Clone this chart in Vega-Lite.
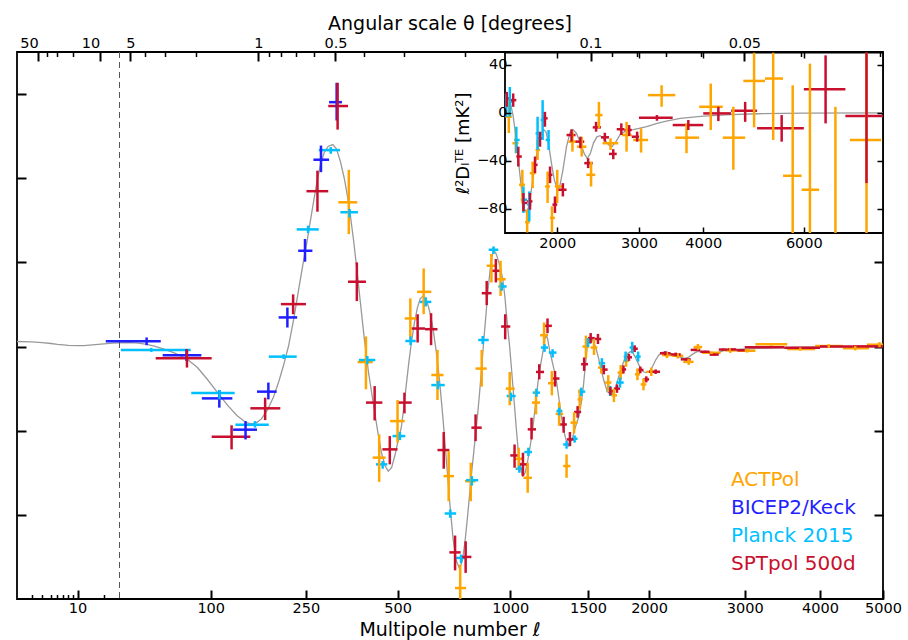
{
  "$schema": "https://vega.github.io/schema/vega-lite/v6.json",
  "width": 866,
  "height": 547,
  "autosize": {"type": "none"},
  "padding": {"left": 17, "top": 52, "right": 25, "bottom": 41},
  "background": "white",
  "config": {
    "view": {"stroke": "black", "strokeWidth": 1.8},
    "font": "DejaVu Sans",
    "axis": {"labelFont": "DejaVu Sans", "titleFont": "DejaVu Sans", "labelFontSize": 14.5, "titleFontSize": 19, "titleFontWeight": "normal", "labelColor": "black", "titleColor": "black", "tickColor": "black", "grid": false, "domain": false, "labelFlush": false, "labelOverlap": false, "labelBound": false}
  },
  "datasets": {
    "theory": [
      {"l":2,"d":3.0},{"l":3,"d":2.8},{"l":4,"d":2.3},{"l":5,"d":1.8},{"l":6,"d":1.3},{"l":7,"d":1.0},{"l":8,"d":0.7},{"l":10,"d":0.5},{"l":12,"d":0.6},{"l":15,"d":1.0},{"l":20,"d":1.6},{"l":25,"d":2.0},{"l":30,"d":2.2},{"l":35,"d":2.3},{"l":40,"d":2.0},{"l":45,"d":1.3},{"l":50,"d":0.3},{"l":57,"d":-1.5},{"l":65,"d":-3.8},{"l":76,"d":-7.4},{"l":86,"d":-12.5},{"l":96,"d":-19.3},{"l":108,"d":-27.5},{"l":120,"d":-35},{"l":132,"d":-41},{"l":144,"d":-45},{"l":152,"d":-46},{"l":160,"d":-45.3},{"l":168,"d":-43},{"l":178,"d":-37.5},{"l":188,"d":-30},{"l":198,"d":-20},{"l":206,"d":-11},{"l":215,"d":0},{"l":225,"d":16},{"l":235,"d":34},{"l":245,"d":51},{"l":252,"d":62},{"l":262,"d":79},{"l":272,"d":95},{"l":281,"d":107},{"l":290,"d":115},{"l":300,"d":119},{"l":311,"d":120},{"l":320,"d":117.5},{"l":330,"d":110},{"l":340,"d":100},{"l":348,"d":90},{"l":355,"d":80},{"l":365,"d":63},{"l":375,"d":44},{"l":383,"d":28},{"l":395,"d":5},{"l":408,"d":-16},{"l":422,"d":-34},{"l":435,"d":-50},{"l":447,"d":-63},{"l":459,"d":-71},{"l":469,"d":-74},{"l":480,"d":-72},{"l":492,"d":-64},{"l":503,"d":-55},{"l":513,"d":-48},{"l":522,"d":-36},{"l":531,"d":-22},{"l":540,"d":-9},{"l":549,"d":2.5},{"l":560,"d":14},{"l":571,"d":23},{"l":582,"d":28.5},{"l":593,"d":30},{"l":603,"d":28.5},{"l":613,"d":24},{"l":623,"d":18},{"l":632,"d":10.5},{"l":645,"d":-3},{"l":659,"d":-21},{"l":673,"d":-43},{"l":688,"d":-69},{"l":702,"d":-93},{"l":716,"d":-114},{"l":730,"d":-127},{"l":745,"d":-132},{"l":758,"d":-127},{"l":770,"d":-116},{"l":781,"d":-102},{"l":791,"d":-88.6},{"l":801,"d":-75},{"l":811,"d":-63},{"l":821,"d":-51},{"l":831,"d":-39},{"l":842,"d":-24},{"l":852,"d":-9},{"l":862,"d":6},{"l":872,"d":20},{"l":882,"d":34},{"l":892,"d":45},{"l":901,"d":53},{"l":910,"d":57},{"l":920,"d":56},{"l":930,"d":53},{"l":945,"d":47},{"l":959,"d":40},{"l":970,"d":30},{"l":978,"d":20},{"l":987,"d":10},{"l":996,"d":0.5},{"l":1005,"d":-11},{"l":1015,"d":-24},{"l":1025,"d":-37},{"l":1034,"d":-49},{"l":1043,"d":-60},{"l":1052,"d":-68},{"l":1062,"d":-74},{"l":1071,"d":-77},{"l":1085,"d":-75},{"l":1100,"d":-68},{"l":1115,"d":-59},{"l":1130,"d":-49},{"l":1145,"d":-36},{"l":1160,"d":-23},{"l":1172,"d":-14},{"l":1182,"d":-9},{"l":1195,"d":-2},{"l":1205,"d":4.5},{"l":1213,"d":6.5},{"l":1222,"d":5},{"l":1235,"d":-2},{"l":1250,"d":-8},{"l":1265,"d":-14},{"l":1278,"d":-19.3},{"l":1295,"d":-30},{"l":1310,"d":-40},{"l":1325,"d":-48},{"l":1340,"d":-54},{"l":1350,"d":-57},{"l":1361,"d":-59},{"l":1375,"d":-57},{"l":1390,"d":-54},{"l":1405,"d":-49},{"l":1420,"d":-45},{"l":1436,"d":-41},{"l":1450,"d":-34},{"l":1466,"d":-24},{"l":1480,"d":-12},{"l":1496,"d":1},{"l":1510,"d":4},{"l":1525,"d":4.5},{"l":1540,"d":3},{"l":1560,"d":-1},{"l":1580,"d":-7},{"l":1600,"d":-14},{"l":1620,"d":-20},{"l":1640,"d":-25},{"l":1660,"d":-27.5},{"l":1687,"d":-28},{"l":1710,"d":-25},{"l":1735,"d":-19},{"l":1760,"d":-13},{"l":1790,"d":-7},{"l":1815,"d":-4},{"l":1838,"d":-3},{"l":1860,"d":-4},{"l":1890,"d":-8},{"l":1920,"d":-12.5},{"l":1950,"d":-15},{"l":1975,"d":-15.5},{"l":2000,"d":-15},{"l":2030,"d":-12},{"l":2060,"d":-8},{"l":2090,"d":-5},{"l":2120,"d":-3.5},{"l":2160,"d":-3.2},{"l":2200,"d":-4},{"l":2250,"d":-5.5},{"l":2300,"d":-6.5},{"l":2340,"d":-7},{"l":2380,"d":-6.3},{"l":2420,"d":-4.5},{"l":2460,"d":-3.2},{"l":2500,"d":-2.8},{"l":2560,"d":-3.5},{"l":2620,"d":-4.2},{"l":2670,"d":-4},{"l":2720,"d":-3},{"l":2780,"d":-2.2},{"l":2850,"d":-1.8},{"l":2950,"d":-1.6},{"l":3100,"d":-1.2},{"l":3300,"d":-0.9},{"l":3600,"d":-0.5},{"l":4000,"d":-0.25},{"l":4500,"d":-0.1},{"l":5000,"d":0}
    ],
    "pts": [
      {"s":"ACTPol","l":352,"l0":325,"l1":375,"d":85.7,"d0":66.8,"d1":105},
      {"s":"ACTPol","l":400,"l0":376,"l1":420,"d":-9.2,"d0":-25.4,"d1":6},
      {"s":"ACTPol","l":440,"l0":420,"l1":460,"d":-66,"d0":-80.4,"d1":-52.2},
      {"s":"ACTPol","l":500,"l0":475,"l1":525,"d":-44.3,"d0":-57.1,"d1":-31.8},
      {"s":"ACTPol","l":545,"l0":525,"l1":570,"d":16.7,"d0":4.3,"d1":28.6},
      {"s":"ACTPol","l":595,"l0":570,"l1":625,"d":32.5,"d0":19.2,"d1":46.4},
      {"s":"ACTPol","l":650,"l0":625,"l1":675,"d":-16.9,"d0":-31.8,"d1":-2},
      {"s":"ACTPol","l":697,"l0":675,"l1":720,"d":-77,"d0":-91.9,"d1":-62.1},
      {"s":"ACTPol","l":748,"l0":725,"l1":775,"d":-143.5,"d0":-150,"d1":-129.6},
      {"s":"ACTPol","l":797,"l0":770,"l1":820,"d":-80,"d0":-91.9,"d1":-69},
      {"s":"ACTPol","l":850,"l0":820,"l1":875,"d":-13.1,"d0":-23.8,"d1":-2},
      {"s":"ACTPol","l":899,"l0":875,"l1":925,"d":48,"d0":38.1,"d1":55},
      {"s":"ACTPol","l":947,"l0":925,"l1":975,"d":40,"d0":30.1,"d1":51},
      {"s":"ACTPol","l":997,"l0":975,"l1":1025,"d":-25,"d0":-34.9,"d1":-15.1},
      {"s":"ACTPol","l":1047,"l0":1025,"l1":1075,"d":-66.7,"d0":-73.4,"d1":-60.1},
      {"s":"ACTPol","l":1100,"l0":1075,"l1":1125,"d":-78,"d0":-86.9,"d1":-69},
      {"s":"ACTPol","l":1150,"l0":1125,"l1":1175,"d":-33.3,"d0":-40.3,"d1":-25.4},
      {"s":"ACTPol","l":1200,"l0":1175,"l1":1225,"d":6.7,"d0":0.4,"d1":14.3},
      {"s":"ACTPol","l":1250,"l0":1225,"l1":1275,"d":-21.8,"d0":-29,"d1":-14.5},
      {"s":"ACTPol","l":1298,"l0":1275,"l1":1325,"d":-40,"d0":-47,"d1":-33},
      {"s":"ACTPol","l":1348,"l0":1325,"l1":1375,"d":-71,"d0":-78,"d1":-64.1},
      {"s":"ACTPol","l":1400,"l0":1375,"l1":1425,"d":-45.2,"d0":-51.6,"d1":-39},
      {"s":"ACTPol","l":1440,"l0":1425,"l1":1460,"d":-31.4,"d0":-37.3,"d1":-25.4},
      {"s":"ACTPol","l":1485,"l0":1460,"l1":1510,"d":0,"d0":-7,"d1":6.5},
      {"s":"ACTPol","l":1545,"l0":1520,"l1":1570,"d":-0.6,"d0":-5,"d1":4.3},
      {"s":"ACTPol","l":1600,"l0":1575,"l1":1625,"d":-12.5,"d0":-16,"d1":-9},
      {"s":"ACTPol","l":1655,"l0":1630,"l1":1680,"d":-21.4,"d0":-27,"d1":-17},
      {"s":"ACTPol","l":1700,"l0":1680,"l1":1725,"d":-29,"d0":-33,"d1":-25},
      {"s":"ACTPol","l":1755,"l0":1730,"l1":1780,"d":-15.5,"d0":-20,"d1":-11},
      {"s":"ACTPol","l":1800,"l0":1780,"l1":1825,"d":-8.5,"d0":-12,"d1":-5},
      {"s":"ACTPol","l":1897,"l0":1875,"l1":1920,"d":-16.5,"d0":-20,"d1":-13},
      {"s":"ACTPol","l":1950,"l0":1925,"l1":1975,"d":-22.5,"d0":-26,"d1":-19},
      {"s":"ACTPol","l":2020,"l0":1975,"l1":2060,"d":-15,"d0":-17.5,"d1":-12.5},
      {"s":"ACTPol","l":2165,"l0":2120,"l1":2210,"d":-5.1,"d0":-6.9,"d1":-3.3},
      {"s":"ACTPol","l":2270,"l0":2215,"l1":2325,"d":-5.5,"d0":-7.1,"d1":-3.9},
      {"s":"ACTPol","l":2380,"l0":2325,"l1":2430,"d":-9.1,"d0":-10.9,"d1":-7.3},
      {"s":"ACTPol","l":2475,"l0":2430,"l1":2520,"d":-0.3,"d0":-2.1,"d1":1.5},
      {"s":"ACTPol","l":2620,"l0":2520,"l1":2720,"d":-3.7,"d0":-4.5,"d1":-2.9},
      {"s":"ACTPol","l":2830,"l0":2770,"l1":2900,"d":-2.3,"d0":-3.8,"d1":-0.8},
      {"s":"ACTPol","l":3030,"l0":2920,"l1":3130,"d":-2.5,"d0":-3.6,"d1":-1.4},
      {"s":"ACTPol","l":3330,"l0":3130,"l1":3540,"d":1.3,"d0":0.5,"d1":2.1},
      {"s":"ACTPol","l":3720,"l0":3540,"l1":3930,"d":-1.5,"d0":-2.4,"d1":-0.6},
      {"s":"ACTPol","l":4130,"l0":3930,"l1":4345,"d":0.3,"d0":-0.8,"d1":1.4},
      {"s":"ACTPol","l":4540,"l0":4345,"l1":4765,"d":-1.0,"d0":-2.3,"d1":0.3},
      {"s":"ACTPol","l":4940,"l0":4730,"l1":5000,"d":1.1,"d0":-0.4,"d1":2.6},
      {"s":"BICEP2/Keck","l":45,"l0":21,"l1":54.6,"d":3.2,"d0":0.8,"d1":5.4},
      {"s":"BICEP2/Keck","l":75.6,"l0":56,"l1":90,"d":-5.2,"d0":-8.6,"d1":-1.6},
      {"s":"BICEP2/Keck","l":109.8,"l0":90.5,"l1":126,"d":-30.8,"d0":-36.3,"d1":-25.8},
      {"s":"BICEP2/Keck","l":144,"l0":127,"l1":161,"d":-49.4,"d0":-55.2,"d1":-44.3},
      {"s":"BICEP2/Keck","l":179.3,"l0":161,"l1":193.5,"d":-26.8,"d0":-31.4,"d1":-21.4},
      {"s":"BICEP2/Keck","l":213,"l0":197,"l1":232,"d":17.3,"d0":11.3,"d1":23.2},
      {"s":"BICEP2/Keck","l":248,"l0":234,"l1":263.8,"d":56.9,"d0":50.4,"d1":63.9},
      {"s":"BICEP2/Keck","l":283,"l0":266,"l1":302,"d":111,"d0":103.6,"d1":119.4},
      {"s":"BICEP2/Keck","l":320.6,"l0":302,"l1":334,"d":145.2,"d0":134.3,"d1":156.7},
      {"s":"Planck 2015","l":48,"l0":30.7,"l1":79.5,"d":-2,"d0":-3.2,"d1":-0.8},
      {"s":"Planck 2015","l":110,"l0":80,"l1":129,"d":-27.6,"d0":-31.4,"d1":-25.8},
      {"s":"Planck 2015","l":158,"l0":130,"l1":180,"d":-46.4,"d0":-48.2,"d1":-44.3},
      {"s":"Planck 2015","l":206,"l0":180,"l1":231,"d":-6,"d0":-7.4,"d1":-4.6},
      {"s":"Planck 2015","l":254.5,"l0":231,"l1":278,"d":69.6,"d0":67.4,"d1":71.8},
      {"s":"Planck 2015","l":306,"l0":278,"l1":329,"d":116.7,"d0":114.5,"d1":118.5},
      {"s":"Planck 2015","l":354,"l0":330,"l1":377,"d":79.8,"d0":76.8,"d1":81.7},
      {"s":"Planck 2015","l":404,"l0":380,"l1":428,"d":-8,"d0":-10.5,"d1":-5.6},
      {"s":"Planck 2015","l":451,"l0":430,"l1":466,"d":-70,"d0":-72.6,"d1":-68},
      {"s":"Planck 2015","l":508,"l0":483,"l1":527,"d":-53.2,"d0":-55.6,"d1":-50.8},
      {"s":"Planck 2015","l":546,"l0":527,"l1":565,"d":3.3,"d0":0.8,"d1":6},
      {"s":"Planck 2015","l":603,"l0":580,"l1":625,"d":26.5,"d0":23.8,"d1":29.2},
      {"s":"Planck 2015","l":652,"l0":625,"l1":680,"d":-22.9,"d0":-25.4,"d1":-20.5},
      {"s":"Planck 2015","l":704,"l0":680,"l1":730,"d":-99.2,"d0":-101.8,"d1":-96.8},
      {"s":"Planck 2015","l":752,"l0":730,"l1":775,"d":-125.6,"d0":-128.6,"d1":-123.6},
      {"s":"Planck 2015","l":802,"l0":775,"l1":833,"d":-79.4,"d0":-82.6,"d1":-77},
      {"s":"Planck 2015","l":855,"l0":833,"l1":885,"d":3.9,"d0":1.4,"d1":6.3},
      {"s":"Planck 2015","l":910,"l0":885,"l1":935,"d":57.5,"d0":55,"d1":59.5},
      {"s":"Planck 2015","l":953,"l0":935,"l1":980,"d":35.7,"d0":33.1,"d1":38.1},
      {"s":"Planck 2015","l":1004,"l0":980,"l1":1030,"d":-29.4,"d0":-32.4,"d1":-27.4},
      {"s":"Planck 2015","l":1051,"l0":1030,"l1":1075,"d":-72.6,"d0":-75,"d1":-70.7},
      {"s":"Planck 2015","l":1104,"l0":1080,"l1":1125,"d":-62.7,"d0":-65.1,"d1":-60.1},
      {"s":"Planck 2015","l":1153,"l0":1130,"l1":1175,"d":-27.4,"d0":-29.8,"d1":-25},
      {"s":"Planck 2015","l":1203,"l0":1180,"l1":1225,"d":-0.6,"d0":-3.2,"d1":1.4},
      {"s":"Planck 2015","l":1255,"l0":1230,"l1":1280,"d":-3.6,"d0":-6.5,"d1":-1.6},
      {"s":"Planck 2015","l":1298,"l0":1280,"l1":1320,"d":-38.3,"d0":-40.9,"d1":-36.3},
      {"s":"Planck 2015","l":1348,"l0":1325,"l1":1380,"d":-58.2,"d0":-60.7,"d1":-56.2},
      {"s":"Planck 2015","l":1404,"l0":1385,"l1":1425,"d":-54.8,"d0":-57.1,"d1":-52.8},
      {"s":"Planck 2015","l":1451,"l0":1430,"l1":1480,"d":-26.8,"d0":-29.4,"d1":-24.4},
      {"s":"Planck 2015","l":1500,"l0":1480,"l1":1525,"d":2.4,"d0":-0.3,"d1":5},
      {"s":"Planck 2015","l":1605,"l0":1580,"l1":1630,"d":-9.9,"d0":-12.9,"d1":-6.9},
      {"s":"Planck 2015","l":1670,"l0":1640,"l1":1700,"d":-26.4,"d0":-29.4,"d1":-23.4},
      {"s":"Planck 2015","l":1750,"l0":1720,"l1":1780,"d":-21.4,"d0":-24.4,"d1":-18.4},
      {"s":"Planck 2015","l":1796,"l0":1780,"l1":1815,"d":-6,"d0":-9,"d1":-3},
      {"s":"Planck 2015","l":1852,"l0":1830,"l1":1875,"d":-0.6,"d0":-4,"d1":2.8},
      {"s":"Planck 2015","l":1903,"l0":1880,"l1":1925,"d":-6,"d0":-9,"d1":-3},
      {"s":"SPTpol 500d","l":76,"l0":51,"l1":101,"d":-7,"d0":-12.5,"d1":-1.6},
      {"s":"SPTpol 500d","l":125,"l0":101,"l1":151,"d":-53.6,"d0":-61.1,"d1":-46.8},
      {"s":"SPTpol 500d","l":174,"l0":151,"l1":200,"d":-36.7,"d0":-43.7,"d1":-30.4},
      {"s":"SPTpol 500d","l":224,"l0":201,"l1":250,"d":25.2,"d0":19.2,"d1":31},
      {"s":"SPTpol 500d","l":275,"l0":251,"l1":300,"d":92.3,"d0":80.1,"d1":104.5},
      {"s":"SPTpol 500d","l":323,"l0":300,"l1":350,"d":142.9,"d0":128.9,"d1":156.7},
      {"s":"SPTpol 500d","l":374,"l0":350,"l1":400,"d":38.5,"d0":27,"d1":50},
      {"s":"SPTpol 500d","l":426,"l0":400,"l1":450,"d":-33.3,"d0":-43.9,"d1":-23.5},
      {"s":"SPTpol 500d","l":474,"l0":450,"l1":500,"d":-61.1,"d0":-70,"d1":-53.2},
      {"s":"SPTpol 500d","l":524,"l0":500,"l1":550,"d":-33.3,"d0":-39.7,"d1":-27.4},
      {"s":"SPTpol 500d","l":572,"l0":550,"l1":600,"d":10.7,"d0":2.4,"d1":19.2},
      {"s":"SPTpol 500d","l":624,"l0":600,"l1":650,"d":10.3,"d0":0.8,"d1":19.8},
      {"s":"SPTpol 500d","l":676,"l0":650,"l1":700,"d":-61.5,"d0":-72.6,"d1":-50.8},
      {"s":"SPTpol 500d","l":725,"l0":700,"l1":750,"d":-122.3,"d0":-133,"d1":-112.3},
      {"s":"SPTpol 500d","l":773,"l0":750,"l1":800,"d":-125,"d0":-134.5,"d1":-115.7},
      {"s":"SPTpol 500d","l":820,"l0":800,"l1":850,"d":-48.2,"d0":-56.2,"d1":-40.3},
      {"s":"SPTpol 500d","l":875,"l0":850,"l1":900,"d":31.7,"d0":24.6,"d1":39},
      {"s":"SPTpol 500d","l":922,"l0":900,"l1":950,"d":45,"d0":38.1,"d1":52},
      {"s":"SPTpol 500d","l":972,"l0":950,"l1":1000,"d":11.9,"d0":4.3,"d1":19.2},
      {"s":"SPTpol 500d","l":1024,"l0":1000,"l1":1050,"d":-64.7,"d0":-72,"d1":-58.2},
      {"s":"SPTpol 500d","l":1072,"l0":1050,"l1":1100,"d":-70,"d0":-77,"d1":-63.1},
      {"s":"SPTpol 500d","l":1123,"l0":1100,"l1":1150,"d":-49.2,"d0":-55.2,"d1":-42.3},
      {"s":"SPTpol 500d","l":1170,"l0":1150,"l1":1200,"d":-15.1,"d0":-19.5,"d1":-10.5},
      {"s":"SPTpol 500d","l":1222,"l0":1200,"l1":1250,"d":12.3,"d0":7.9,"d1":16.7},
      {"s":"SPTpol 500d","l":1271,"l0":1250,"l1":1300,"d":-19,"d0":-23.8,"d1":-14.5},
      {"s":"SPTpol 500d","l":1328,"l0":1300,"l1":1350,"d":-46.3,"d0":-51.2,"d1":-41.7},
      {"s":"SPTpol 500d","l":1371,"l0":1350,"l1":1400,"d":-55.2,"d0":-59.2,"d1":-50.8},
      {"s":"SPTpol 500d","l":1425,"l0":1400,"l1":1450,"d":-38.9,"d0":-42.3,"d1":-35.4},
      {"s":"SPTpol 500d","l":1472,"l0":1450,"l1":1500,"d":-10.5,"d0":-14.5,"d1":-6.5},
      {"s":"SPTpol 500d","l":1520,"l0":1500,"l1":1550,"d":5,"d0":2,"d1":8},
      {"s":"SPTpol 500d","l":1575,"l0":1550,"l1":1600,"d":4.5,"d0":1.5,"d1":7.5},
      {"s":"SPTpol 500d","l":1620,"l0":1600,"l1":1650,"d":-13.7,"d0":-16.5,"d1":-11},
      {"s":"SPTpol 500d","l":1672,"l0":1650,"l1":1700,"d":-26.5,"d0":-29,"d1":-24},
      {"s":"SPTpol 500d","l":1725,"l0":1700,"l1":1750,"d":-25,"d0":-27.5,"d1":-22.5},
      {"s":"SPTpol 500d","l":1778,"l0":1750,"l1":1800,"d":-13.6,"d0":-16,"d1":-11.2},
      {"s":"SPTpol 500d","l":1824,"l0":1800,"l1":1850,"d":-6.4,"d0":-8.5,"d1":-4.3},
      {"s":"SPTpol 500d","l":1873,"l0":1850,"l1":1900,"d":-1.3,"d0":-3.3,"d1":0.7},
      {"s":"SPTpol 500d","l":1922,"l0":1900,"l1":1950,"d":-13.9,"d0":-15.9,"d1":-11.9},
      {"s":"SPTpol 500d","l":1975,"l0":1950,"l1":2000,"d":-19.5,"d0":-21.3,"d1":-17.7},
      {"s":"SPTpol 500d","l":2060,"l0":2000,"l1":2100,"d":-15,"d0":-16.3,"d1":-13.6},
      {"s":"SPTpol 500d","l":2150,"l0":2100,"l1":2200,"d":-4,"d0":-5.2,"d1":-2.8},
      {"s":"SPTpol 500d","l":2250,"l0":2200,"l1":2300,"d":-4.7,"d0":-5.8,"d1":-3.6},
      {"s":"SPTpol 500d","l":2350,"l0":2300,"l1":2400,"d":-7.6,"d0":-8.4,"d1":-6.8},
      {"s":"SPTpol 500d","l":2450,"l0":2400,"l1":2500,"d":-2,"d0":-2.7,"d1":-1.3},
      {"s":"SPTpol 500d","l":2550,"l0":2500,"l1":2600,"d":-3.1,"d0":-3.7,"d1":-2.5},
      {"s":"SPTpol 500d","l":2650,"l0":2600,"l1":2700,"d":-4.8,"d0":-5.4,"d1":-4.2},
      {"s":"SPTpol 500d","l":2750,"l0":2700,"l1":2800,"d":-1.8,"d0":-2.4,"d1":-1.2},
      {"s":"SPTpol 500d","l":2850,"l0":2800,"l1":2900,"d":-1.7,"d0":-2.3,"d1":-1.1},
      {"s":"SPTpol 500d","l":2950,"l0":2900,"l1":3000,"d":-2.2,"d0":-2.7,"d1":-1.7},
      {"s":"SPTpol 500d","l":3250,"l0":3000,"l1":3500,"d":-0.4,"d0":-0.65,"d1":-0.15},
      {"s":"SPTpol 500d","l":3750,"l0":3500,"l1":4000,"d":-0.7,"d0":-1.0,"d1":-0.4},
      {"s":"SPTpol 500d","l":4250,"l0":4000,"l1":4500,"d":0,"d0":-0.3,"d1":0.3},
      {"s":"SPTpol 500d","l":4750,"l0":4500,"l1":5000,"d":0.1,"d0":-0.3,"d1":0.5}
    ],
    "itheory": [
      {"l":1500,"d":11},{"l":1520,"d":13},{"l":1545,"d":9},{"l":1570,"d":-2},{"l":1600,"d":-22},{"l":1625,"d":-45},{"l":1650,"d":-66},{"l":1675,"d":-80},{"l":1694,"d":-83},{"l":1715,"d":-78},{"l":1740,"d":-64},{"l":1770,"d":-46},{"l":1800,"d":-30},{"l":1830,"d":-19},{"l":1860,"d":-14},{"l":1885,"d":-16},{"l":1910,"d":-26},{"l":1940,"d":-42},{"l":1970,"d":-56},{"l":2000,"d":-63},{"l":2025,"d":-62},{"l":2060,"d":-48},{"l":2100,"d":-28},{"l":2140,"d":-16},{"l":2170,"d":-14},{"l":2210,"d":-17},{"l":2260,"d":-26},{"l":2300,"d":-34},{"l":2335,"d":-38},{"l":2370,"d":-34},{"l":2410,"d":-25},{"l":2450,"d":-20},{"l":2490,"d":-19},{"l":2540,"d":-22},{"l":2600,"d":-27},{"l":2640,"d":-28},{"l":2690,"d":-24},{"l":2745,"d":-18},{"l":2820,"d":-15},{"l":2920,"d":-14},{"l":3000,"d":-13},{"l":3110,"d":-11.5},{"l":3250,"d":-9},{"l":3400,"d":-7},{"l":3620,"d":-4.6},{"l":4000,"d":-2.7},{"l":4500,"d":-1.5},{"l":5000,"d":-0.8},{"l":6000,"d":-0.3},{"l":8000,"d":0}
    ],
    "ipts": [
      {"s":"ACTPol","l":1533,"l0":1505,"l1":1560,"d":-3.3,"d0":-16.8,"d1":10.5},
      {"s":"ACTPol","l":1595,"l0":1565,"l1":1620,"d":-25.3,"d0":-33.6,"d1":-12.9},
      {"s":"ACTPol","l":1655,"l0":1625,"l1":1680,"d":-59.9,"d0":-75,"d1":-47.4},
      {"s":"ACTPol","l":1700,"l0":1680,"l1":1725,"d":-91,"d0":-99.6,"d1":-80.6},
      {"s":"ACTPol","l":1752,"l0":1725,"l1":1780,"d":-50.2,"d0":-62.6,"d1":-40.6},
      {"s":"ACTPol","l":1800,"l0":1780,"l1":1825,"d":-30.9,"d0":-39.2,"d1":-22.6},
      {"s":"ACTPol","l":1900,"l0":1875,"l1":1925,"d":-61.3,"d0":-75,"d1":-48.9},
      {"s":"ACTPol","l":1945,"l0":1925,"l1":1975,"d":-87.4,"d0":-99.6,"d1":-77.8},
      {"s":"ACTPol","l":2000,"l0":1975,"l1":2060,"d":-61.3,"d0":-75,"d1":-47.4},
      {"s":"ACTPol","l":2165,"l0":2120,"l1":2210,"d":-24,"d0":-32.3,"d1":-15.7},
      {"s":"ACTPol","l":2270,"l0":2215,"l1":2325,"d":-28.2,"d0":-36.4,"d1":-19.9},
      {"s":"ACTPol","l":2380,"l0":2325,"l1":2430,"d":-51.6,"d0":-61.3,"d1":-40.6},
      {"s":"ACTPol","l":2475,"l0":2430,"l1":2520,"d":-1.9,"d0":-12.9,"d1":9.1},
      {"s":"ACTPol","l":2620,"l0":2520,"l1":2720,"d":-25.3,"d0":-30.9,"d1":-21.2},
      {"s":"ACTPol","l":2830,"l0":2770,"l1":2900,"d":-18.5,"d0":-32.3,"d1":-7.5},
      {"s":"ACTPol","l":3030,"l0":2920,"l1":3130,"d":-22.6,"d0":-33.1,"d1":-12.9},
      {"s":"ACTPol","l":3330,"l0":3130,"l1":3540,"d":14.7,"d0":5,"d1":22.9},
      {"s":"ACTPol","l":3720,"l0":3540,"l1":3930,"d":-20.7,"d0":-33.6,"d1":-8.8},
      {"s":"ACTPol","l":4130,"l0":3930,"l1":4345,"d":5,"d0":-14.3,"d1":24.3},
      {"s":"ACTPol","l":4540,"l0":4345,"l1":4765,"d":-20.7,"d0":-47.4,"d1":5},
      {"s":"ACTPol","l":4940,"l0":4730,"l1":5160,"d":26.5,"d0":-12.1,"d1":60},
      {"s":"ACTPol","l":5330,"l0":5160,"l1":5540,"d":28.5,"d0":-22.6,"d1":60},
      {"s":"ACTPol","l":5750,"l0":5540,"l1":5950,"d":-52.4,"d0":-130,"d1":22.9},
      {"s":"ACTPol","l":6140,"l0":5950,"l1":6355,"d":-64,"d0":-130,"d1":40.9},
      {"s":"ACTPol","l":6750,"l0":6600,"l1":6900,"d":-130,"d0":-250,"d1":5},
      {"s":"ACTPol","l":7550,"l0":7114,"l1":7950,"d":-22.6,"d0":-130,"d1":60},
      {"s":"Planck 2015","l":1510,"l0":1490,"l1":1525,"d":6,"d0":-3.6,"d1":16},
      {"s":"Planck 2015","l":1542,"l0":1525,"l1":1560,"d":9.1,"d0":-3.3,"d1":21.5},
      {"s":"Planck 2015","l":1600,"l0":1580,"l1":1630,"d":-22.6,"d0":-33.6,"d1":-11.6},
      {"s":"Planck 2015","l":1665,"l0":1640,"l1":1700,"d":-72.3,"d0":-83.3,"d1":-61.3},
      {"s":"Planck 2015","l":1720,"l0":1700,"l1":1740,"d":-76.4,"d0":-90.3,"d1":-65.4},
      {"s":"Planck 2015","l":1800,"l0":1780,"l1":1815,"d":-17.1,"d0":-30.9,"d1":-3.3},
      {"s":"Planck 2015","l":1850,"l0":1830,"l1":1875,"d":-6,"d0":-22.6,"d1":10.5},
      {"s":"Planck 2015","l":1910,"l0":1880,"l1":1925,"d":-22.6,"d0":-30.9,"d1":-14.3},
      {"s":"SPTpol 500d","l":1515,"l0":1500,"l1":1545,"d":11.9,"d0":5,"d1":17.4},
      {"s":"SPTpol 500d","l":1572,"l0":1550,"l1":1600,"d":10.5,"d0":5,"d1":16.1},
      {"s":"SPTpol 500d","l":1618,"l0":1600,"l1":1650,"d":-36.4,"d0":-44.7,"d1":-28.2},
      {"s":"SPTpol 500d","l":1665,"l0":1650,"l1":1700,"d":-75,"d0":-82,"d1":-66.7},
      {"s":"SPTpol 500d","l":1727,"l0":1700,"l1":1750,"d":-73.7,"d0":-80.6,"d1":-66.7},
      {"s":"SPTpol 500d","l":1775,"l0":1750,"l1":1800,"d":-43.3,"d0":-50.2,"d1":-36.4},
      {"s":"SPTpol 500d","l":1824,"l0":1800,"l1":1850,"d":-21.2,"d0":-28.2,"d1":-15.7},
      {"s":"SPTpol 500d","l":1873,"l0":1850,"l1":1900,"d":-4.6,"d0":-11.6,"d1":0.8},
      {"s":"SPTpol 500d","l":1925,"l0":1900,"l1":1950,"d":-51.6,"d0":-58.5,"d1":-44.7},
      {"s":"SPTpol 500d","l":1976,"l0":1950,"l1":2000,"d":-76.4,"d0":-83.3,"d1":-69.6},
      {"s":"SPTpol 500d","l":2060,"l0":2000,"l1":2100,"d":-64,"d0":-69.6,"d1":-58.5},
      {"s":"SPTpol 500d","l":2155,"l0":2100,"l1":2200,"d":-18.5,"d0":-24,"d1":-13.7},
      {"s":"SPTpol 500d","l":2255,"l0":2200,"l1":2300,"d":-24,"d0":-29.5,"d1":-19.9},
      {"s":"SPTpol 500d","l":2345,"l0":2300,"l1":2400,"d":-41.9,"d0":-46,"d1":-37.8},
      {"s":"SPTpol 500d","l":2440,"l0":2400,"l1":2500,"d":-12.1,"d0":-15.7,"d1":-7.5},
      {"s":"SPTpol 500d","l":2548,"l0":2500,"l1":2600,"d":-20.4,"d0":-24,"d1":-16.6},
      {"s":"SPTpol 500d","l":2655,"l0":2600,"l1":2700,"d":-34.2,"d0":-38.6,"d1":-30.3},
      {"s":"SPTpol 500d","l":2760,"l0":2700,"l1":2800,"d":-13.7,"d0":-18.5,"d1":-8.8},
      {"s":"SPTpol 500d","l":2865,"l0":2800,"l1":2900,"d":-14.3,"d0":-19.3,"d1":-10.2},
      {"s":"SPTpol 500d","l":2975,"l0":2900,"l1":3000,"d":-19.9,"d0":-24,"d1":-15.7},
      {"s":"SPTpol 500d","l":3260,"l0":3000,"l1":3500,"d":-4.1,"d0":-6.6,"d1":-1.9},
      {"s":"SPTpol 500d","l":3750,"l0":3500,"l1":4000,"d":-10.2,"d0":-14.3,"d1":-6},
      {"s":"SPTpol 500d","l":4265,"l0":4000,"l1":4500,"d":-0.5,"d0":-6.9,"d1":5},
      {"s":"SPTpol 500d","l":4765,"l0":4500,"l1":5000,"d":1.7,"d0":-7.5,"d1":9.1},
      {"s":"SPTpol 500d","l":5510,"l0":5000,"l1":6000,"d":-12.9,"d0":-24,"d1":-1.9},
      {"s":"SPTpol 500d","l":6510,"l0":6000,"l1":7000,"d":19.6,"d0":-8.8,"d1":47.8},
      {"s":"SPTpol 500d","l":7550,"l0":7000,"l1":8000,"d":-2.7,"d0":-58.5,"d1":60}
    ]
  },
  "layer": [
    {
      "layer": [
        {
          "data": {"name": "theory"},
          "mark": {"type": "line", "color": "#999999", "strokeWidth": 1.3, "clip": true},
          "encoding": {
            "x": {"field": "l", "type": "quantitative", "scale": {"type": "pow", "exponent": 0.3, "domain": [2,3,5,10,20,30,5000], "range": [-1,14.5,34,60.5,87,102.5,866], "nice": false, "zero": false}, "axis": {"orient": "bottom", "values": [10,100,250,500,1000,1500,2000,3000,4000,5000], "format": "d", "title": "Multipole number ℓ", "tickSize": -9, "tickWidth": 2, "labelPadding": 11, "titlePadding": 6}},
            "y": {"field": "d", "type": "quantitative", "scale": {"domain": [-150, 175], "nice": false, "zero": false}, "axis": {"orient": "left", "values": [-100,-50,0,50,100,150], "labels": false, "title": null, "tickSize": -9, "tickWidth": 2}}
          }
        },
        {
          "data": {"values": [{"l": 30}]},
          "mark": {"type": "rule", "color": "#555555", "strokeWidth": 1, "strokeDash": [6, 4]},
          "encoding": {
            "x": {"field": "l", "type": "quantitative"}
          }
        },
        {
          "data": {"name": "pts"},
          "mark": {"type": "rule", "strokeWidth": 2.5, "clip": true},
          "encoding": {
            "x": {"field": "l0", "type": "quantitative"},
            "x2": {"field": "l1"},
            "y": {"field": "d", "type": "quantitative"},
            "color": {"field": "s", "type": "nominal", "scale": {"domain": ["ACTPol","BICEP2/Keck","Planck 2015","SPTpol 500d"], "range": ["#FFA500","#1F1FFF","#00BFFF","#C8102E"]}, "legend": {"orient": "none", "legendX": 694, "legendY": 418, "title": null, "symbolSize": 0, "symbolStrokeWidth": 0, "symbolOpacity": 0, "labelFont": "DejaVu Sans", "labelFontSize": 20, "labelOffset": 0, "rowPadding": 8, "labelLimit": 300, "encode": {"labels": {"update": {"fill": {"scale": "color", "field": "value"}}}}}}
          }
        },
        {
          "data": {"name": "pts"},
          "mark": {"type": "rule", "strokeWidth": 2.5, "clip": true},
          "encoding": {
            "x": {"field": "l", "type": "quantitative"},
            "y": {"field": "d0", "type": "quantitative"},
            "y2": {"field": "d1"},
            "color": {"field": "s", "type": "nominal", "scale": {"domain": ["ACTPol","BICEP2/Keck","Planck 2015","SPTpol 500d"], "range": ["#FFA500","#1F1FFF","#00BFFF","#C8102E"]}, "legend": {"orient": "none", "legendX": 694, "legendY": 418, "title": null, "symbolSize": 0, "symbolStrokeWidth": 0, "symbolOpacity": 0, "labelFont": "DejaVu Sans", "labelFontSize": 20, "labelOffset": 0, "rowPadding": 8, "labelLimit": 300, "encode": {"labels": {"update": {"fill": {"scale": "color", "field": "value"}}}}}}
          }
        }
      ]
    },
    {
      "data": {"values": [{"l": 30}]},
      "mark": {"type": "rule", "opacity": 0},
      "encoding": {
        "x": {"field": "l", "type": "quantitative", "scale": {"type": "pow", "exponent": 0.3, "domain": [2,3,5,10,20,30,5000], "range": [-1,14.5,34,60.5,87,102.5,866], "nice": false, "zero": false}, "axis": {"orient": "bottom", "values": [3,4,5,6,7,8,9,20], "labels": false, "title": null, "tickSize": -4.5, "tickWidth": 1.5}}
      }
    },
    {
      "data": {"values": [{"l": 30}]},
      "mark": {"type": "rule", "opacity": 0},
      "encoding": {
        "x": {"field": "l", "type": "quantitative", "scale": {"type": "pow", "exponent": 0.3, "domain": [2,3,5,10,20,30,6058], "range": [-1,14.5,34,60.5,87,102.5,866], "nice": false, "zero": false}, "axis": {"orient": "top", "values": [3.6,18,36,180,360,1800,3600], "labelExpr": "format(180/datum.value, '.2~g')", "labelAlign": {"condition": {"test": "datum.value < 30", "value": "right"}, "value": "center"}, "title": "Angular scale θ [degrees]", "tickSize": -9, "tickWidth": 2, "labelPadding": 11, "titlePadding": 2, "zindex": 1}}
      }
    },
    {
      "data": {"values": [{"l": 30}]},
      "mark": {"type": "rule", "opacity": 0},
      "encoding": {
        "x": {"field": "l", "type": "quantitative", "scale": {"type": "pow", "exponent": 0.3, "domain": [2,3,5,10,20,30,6058], "range": [-1,14.5,34,60.5,87,102.5,866], "nice": false, "zero": false}, "axis": {"orient": "top", "values": [4.5,6,9,45,60,90,200,225,257.14,300,450,600,900,2000,2250,2571.4,3000,4500,6000], "labels": false, "title": null, "tickSize": -4.5, "tickWidth": 1.5, "zindex": 1}}
      }
    },
    {
      "data": {"values": [{"d": 0}]},
      "mark": {"type": "rule", "opacity": 0},
      "encoding": {
        "y": {"field": "d", "type": "quantitative", "scale": {"domain": [-150, 175], "nice": false, "zero": false}, "axis": {"orient": "right", "values": [-100,-50,0,50,100,150], "labels": false, "title": null, "tickSize": -9, "tickWidth": 2}}
      }
    },
    {
      "layer": [
        {
          "data": {"values": [{"l0": 1500, "l1": 8000, "d0": -100, "d1": 50}]},
          "mark": {"type": "rect", "fill": "white", "stroke": "black", "strokeWidth": 1.8},
          "encoding": {
            "x": {"field": "l0", "type": "quantitative", "scale": {"type": "pow", "exponent": 0.3, "domain": [1500, 8000], "range": [488, 866], "nice": false, "zero": false, "clamp": true}, "axis": {"orient": "bottom", "offset": -366, "values": [2000,3000,4000,6000], "format": "d", "title": null, "tickSize": -6, "tickWidth": 1.5, "labelPadding": 9, "zindex": 1}},
            "x2": {"field": "l1"},
            "y": {"field": "d0", "type": "quantitative", "scale": {"domain": [-100, 50], "range": [181, 0.7], "nice": false, "zero": false, "clamp": true}, "axis": {"orient": "left", "offset": -488, "values": [-80,-40,0,40], "title": "ℓ²Dₗᵀᴱ [mK²]", "titleFontSize": 18, "titlePadding": 4, "tickSize": -6, "tickWidth": 1.5, "labelPadding": 4, "zindex": 1}},
            "y2": {"field": "d1"}
          }
        },
        {
          "data": {"name": "itheory"},
          "mark": {"type": "line", "color": "#999999", "strokeWidth": 1.3},
          "encoding": {
            "x": {"field": "l", "type": "quantitative"},
            "y": {"field": "d", "type": "quantitative"}
          }
        },
        {
          "data": {"name": "ipts"},
          "transform": [{"filter": "datum.d >= -100 && datum.d <= 50"}],
          "mark": {"type": "rule", "strokeWidth": 2.5},
          "encoding": {
            "x": {"field": "l0", "type": "quantitative"},
            "x2": {"field": "l1"},
            "y": {"field": "d", "type": "quantitative"},
            "color": {"field": "s", "type": "nominal", "scale": {"domain": ["ACTPol","BICEP2/Keck","Planck 2015","SPTpol 500d"], "range": ["#FFA500","#1F1FFF","#00BFFF","#C8102E"]}, "legend": {"orient": "none", "legendX": 694, "legendY": 418, "title": null, "symbolSize": 0, "symbolStrokeWidth": 0, "symbolOpacity": 0, "labelFont": "DejaVu Sans", "labelFontSize": 20, "labelOffset": 0, "rowPadding": 8, "labelLimit": 300, "encode": {"labels": {"update": {"fill": {"scale": "color", "field": "value"}}}}}}
          }
        },
        {
          "data": {"name": "ipts"},
          "mark": {"type": "rule", "strokeWidth": 2.5},
          "encoding": {
            "x": {"field": "l", "type": "quantitative"},
            "y": {"field": "d0", "type": "quantitative"},
            "y2": {"field": "d1"},
            "color": {"field": "s", "type": "nominal", "scale": {"domain": ["ACTPol","BICEP2/Keck","Planck 2015","SPTpol 500d"], "range": ["#FFA500","#1F1FFF","#00BFFF","#C8102E"]}, "legend": {"orient": "none", "legendX": 694, "legendY": 418, "title": null, "symbolSize": 0, "symbolStrokeWidth": 0, "symbolOpacity": 0, "labelFont": "DejaVu Sans", "labelFontSize": 20, "labelOffset": 0, "rowPadding": 8, "labelLimit": 300, "encode": {"labels": {"update": {"fill": {"scale": "color", "field": "value"}}}}}}
          }
        }
      ]
    },
    {
      "data": {"values": [{"l": 2000}]},
      "mark": {"type": "rule", "opacity": 0},
      "encoding": {
        "x": {"field": "l", "type": "quantitative", "scale": {"type": "pow", "exponent": 0.3, "domain": [1500, 8000], "range": [488, 866], "nice": false, "zero": false}, "axis": {"orient": "top", "offset": 0, "values": [2000,3000,4000,6000], "labels": false, "title": null, "tickSize": -6, "tickWidth": 1.5, "zindex": 1}}
      }
    },
    {
      "data": {"values": [{"d": 0}]},
      "mark": {"type": "rule", "opacity": 0},
      "encoding": {
        "y": {"field": "d", "type": "quantitative", "scale": {"domain": [-100, 50], "range": [181, 0.7], "nice": false, "zero": false}, "axis": {"orient": "right", "offset": 0, "values": [-80,-40,0,40], "labels": false, "title": null, "tickSize": -6, "tickWidth": 1.5, "zindex": 1}}
      }
    }
  ],
  "resolve": {"scale": {"x": "independent", "y": "independent"}, "axis": {"x": "independent", "y": "independent"}}
}
